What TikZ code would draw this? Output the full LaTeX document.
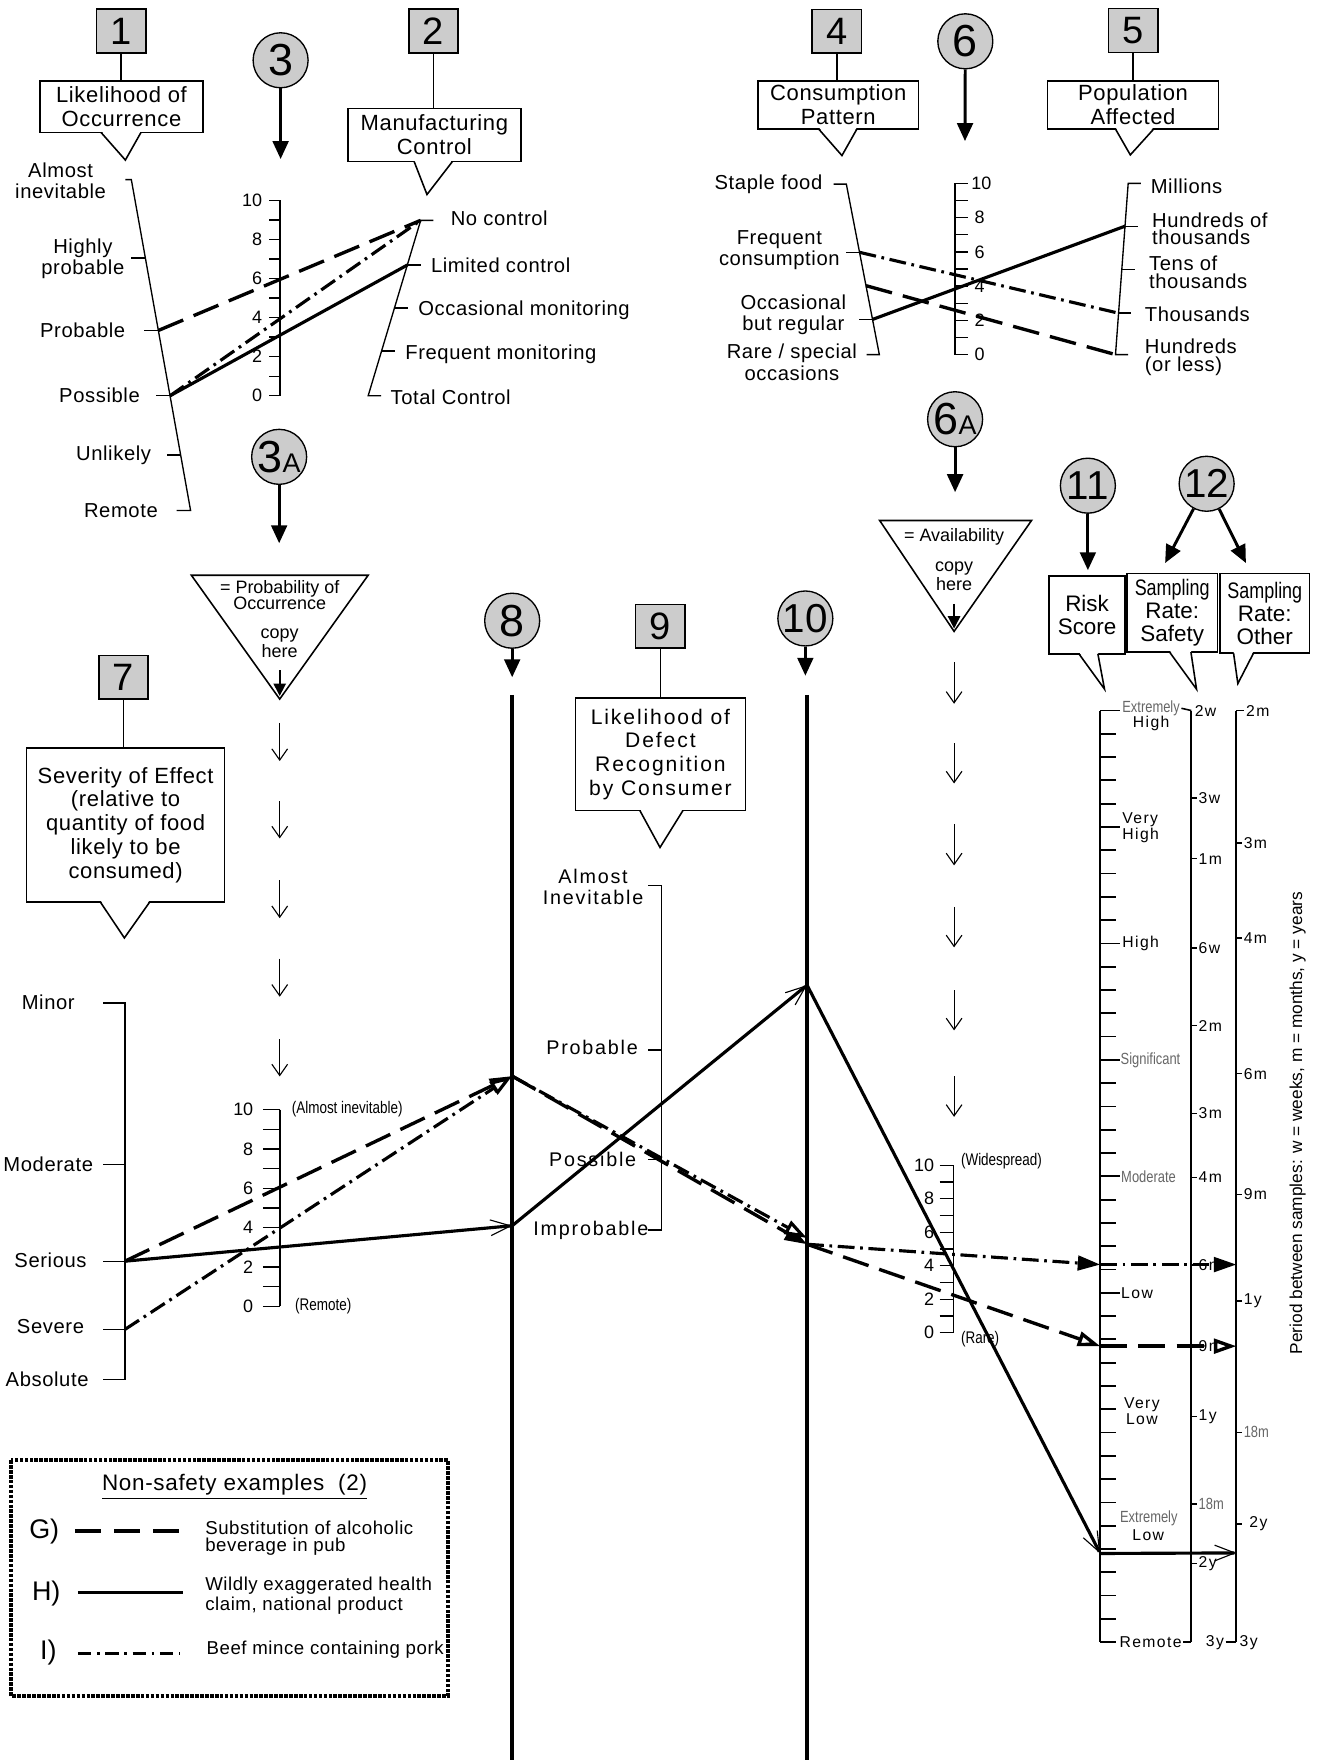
\documentclass[tikz,border=0pt]{standalone}
\usepackage{fontspec}
\setmainfont{Liberation Sans}
\newfontfamily\spacedfont[LetterSpace=3]{Liberation Sans}
\newfontfamily\widefont[LetterSpace=9]{Liberation Sans}
\newfontfamily\narrowfont[FakeStretch=0.8]{Liberation Sans}
\usetikzlibrary{arrows.meta,calc,positioning}
\definecolor{boxgray}{gray}{0.8}
\definecolor{labelgray}{gray}{0.4}
% pointer of a callout: base left x, base right x, base y, tip x, tip y
\newcommand{\pointer}[5]{%
  \fill[white] (#1,#3-1.8) -- (#4,#5) -- (#2,#3-1.8) -- cycle;
  \draw[line width=0.7pt] (#1,#3) -- (#4,#5) -- (#2,#3);}

\begin{document}
\begin{tikzpicture}[x=0.5pt,y=-0.5pt]
    \tikzstyle{numbox}=[draw, line width=0.7pt, fill=boxgray, minimum width=22pt, minimum height=19.5pt, inner sep=0pt, font=\fontsize{17}{17}\selectfont]
    \tikzstyle{numcirc}=[draw, circle, line width=0.6pt, fill=boxgray, minimum size=24.5pt, inner sep=0pt, font=\fontsize{20}{20}\selectfont]
    \tikzstyle{callout}=[draw, line width=0.7pt, fill=white, align=center, inner sep=0pt, font=\spacedfont\fontsize{9.8}{10.6}\selectfont]
    \tikzstyle{lbl}=[inner sep=1pt, align=center, font=\spacedfont\fontsize{9}{9.6}\selectfont]
    \tikzstyle{lblw}=[inner sep=1pt, align=center, font=\widefont\fontsize{8.8}{9.6}\selectfont]
    \tikzstyle{tnum}=[inner sep=1pt, font=\fontsize{8}{8}\selectfont]
    \tikzstyle{tiny}=[inner sep=0.5pt, font=\narrowfont\fontsize{7.5}{7.5}\selectfont]
    \tikzstyle{rs}=[inner sep=0.5pt, align=center, font=\widefont\fontsize{7}{7}\selectfont]
    \tikzstyle{rsg}=[inner sep=0.5pt, text=labelgray, font=\narrowfont\fontsize{7.2}{7.2}\selectfont]
    \tikzstyle{caseG}=[line width=1.5pt, dash pattern=on 12pt off 5pt]
    \tikzstyle{caseH}=[line width=1.4pt]
    \tikzstyle{caseI}=[line width=1.4pt, dash pattern=on 7.5pt off 2.5pt on 1.2pt off 2.5pt]
    \tikzstyle{headfill}=[-{Triangle[length=10pt,width=6.5pt]}]
    \tikzstyle{headopen}=[-{Triangle[length=10pt,width=6.5pt,fill=white]}]
    \tikzstyle{headbarb}=[-{Straight Barb[length=9pt,width=7pt,line width=0.5pt]}]
    \tikzstyle{flow}=[line width=0.5pt, -{Straight Barb[length=5pt,width=7pt]}]
    \tikzstyle{bigarrow}=[line width=1.3pt, -{Triangle[length=8pt,width=7pt]}]

    \useasboundingbox (0,0) rectangle (1180,1568);

    % Number boxes
    \node (b1)[numbox] at (108,27.6) {1};
    \node (b2)[numbox] at (386.2,27.6) {2};
    \node (b4)[numbox] at (745.6,27.9) {4};
    \node (b5)[numbox] at (1009.6,27.2) {5};
    \node (b7)[numbox] at (110,603.3) {7};
    \node (b9)[numbox] at (588.3,557.9) {9};

    % Number circles
    \node (k3)[numcirc] at (250,53.7) {3};
    \node (k3a)[numcirc] at (248.7,407) {3\fontsize{12}{12}\selectfont A};
    \node (k6)[numcirc] at (860,36.8) {6};
    \node (k6a)[numcirc] at (850.9,373.5) {6\fontsize{12}{12}\selectfont A};
    \node (k8)[numcirc] at (456.3,553) {8};
    \node (k10)[numcirc, font=\fontsize{18}{18}\selectfont] at (717.5,551) {10};
    \node (k11)[numcirc, font=\fontsize{18}{18}\selectfont] at (969.2,432.7) {11};
    \node (k12)[numcirc, font=\fontsize{18}{18}\selectfont] at (1075,431) {12};

    % Callouts
    \node (c1)[callout, minimum width=72.5pt, minimum height=23pt] at (108.2,95) {Likelihood of\\Occurrence};
    \node (c2)[callout, minimum width=77pt, minimum height=23.7pt] at (387,120.3) {Manufacturing\\Control};
    \node (c4)[callout, minimum width=71.4pt, minimum height=21.5pt] at (746.8,93.5) {Consumption\\Pattern};
    \node (c5)[callout, minimum width=76pt, minimum height=21.5pt] at (1009.4,93.5) {Population\\Affected};
    \node (c7)[callout, minimum width=88.2pt, minimum height=68.6pt] at (111.9,735) {Severity of Effect\\(relative to\\quantity of food\\likely to be\\consumed)};
    \node (c9)[callout, minimum width=75.7pt, minimum height=50pt, font=\widefont\fontsize{9.4}{10.6}\selectfont] at (588.4,672) {Likelihood of\\Defect\\Recognition\\by Consumer};
    \node (c11)[callout, minimum width=34pt, minimum height=34.75pt, font=\fontsize{10}{10.4}\selectfont] at (968.5,547.8) {Risk\\Score};
    \node (c12s)[callout, minimum width=40.25pt, minimum height=35pt, font=\fontsize{10}{10.3}\selectfont] at (1044.3,546) {{\narrowfont Sampling}\\Rate:\\Safety};
    \node (c12o)[callout, minimum width=39.8pt, minimum height=35.5pt, font=\fontsize{10}{10.3}\selectfont] at (1126.8,546.5) {{\narrowfont Sampling}\\Rate:\\Other};

    \pointer{90}{125.6}{118}{111.7}{142.6}
    \pointer{369}{403}{144}{380.4}{173.3}
    \pointer{729.4}{763.4}{115}{750.1}{138.6}
    \pointer{993.8}{1027.8}{115}{1007}{138}
    \pointer{89.4}{133.4}{803.6}{110.8}{835.6}
    \pointer{570}{608.5}{722}{588}{755}
    \pointer{961.2}{978.1}{582.5}{984}{613.9}
    \pointer{1042}{1061}{581}{1066}{614}
    \pointer{1099}{1116.7}{582}{1102.8}{609}

    % Boxes to callouts
    \draw[line width=0.7pt] (b1.south) -- (b1.south |- c1.north);
    \draw[line width=0.7pt] (b2.south) -- (b2.south |- c2.north);
    \draw[line width=0.7pt] (b4.south) -- (b4.south |- c4.north);
    \draw[line width=0.7pt] (b5.south) -- (b5.south |- c5.north);
    \draw[line width=0.7pt] (b7.south) -- (b7.south |- c7.north);
    \draw[line width=0.7pt] (b9.south) -- (b9.south |- c9.north);

    % Arrows out of the circles
    \coordinate (k3tip) at (250,141.7);
    \coordinate (k3atip) at (248.7,484);
    \coordinate (k6tip) at (859.7,125.7);
    \coordinate (k6atip) at (850.9,438.5);
    \coordinate (k8tip) at (456.3,603.4);
    \coordinate (k10tip) at (717.5,602);
    \coordinate (k11tip) at (969.2,508);
    \coordinate (k12stip) at (1038,501.6);
    \coordinate (k12otip) at (1110,501.6);
    \draw[bigarrow] (k3) -- (k3tip);
    \draw[bigarrow] (k3a) -- (k3atip);
    \draw[bigarrow] (k6) -- (k6tip);
    \draw[bigarrow] (k6a) -- (k6atip);
    \draw[bigarrow] (k8) -- (k8tip);
    \draw[bigarrow] (k10) -- (k10tip);
    \draw[bigarrow] (k11) -- (k11tip);
    \draw[bigarrow] (k12) -- (k12stip);
    \draw[bigarrow] (k12) -- (k12otip);

    % ---- Scale 1: likelihood of occurrence ----
    \coordinate (s1top) at (117,160);
    \coordinate (s1bot) at (169.8,454.8);
    \coordinate (s1-hp) at (129.5,230);
    \coordinate (s1-pr) at (141.1,294.4);
    \coordinate (s1-po) at (151.5,352.6);
    \coordinate (s1-un) at (161,405.4);
    \draw[line width=0.6pt] (111.7,160) -- (s1top) -- (s1bot) -- (157.4,454.8);
    \foreach \c in {s1-hp,s1-pr,s1-po,s1-un}
        \draw[line width=0.6pt] (\c) -- ++(-12.5,0);
    \node (l1-ai)[lbl] at (54,161) {Almost\\inevitable};
    \node (l1-hp)[lbl] at (73.8,230.5) {Highly\\probable};
    \node (l1-pr)[lbl, anchor=east] at (114,294) {Probable};
    \node (l1-po)[lbl, anchor=east] at (127,352) {Possible};
    \node (l1-un)[lbl, anchor=east] at (137,405.4) {Unlikely};
    \node (l1-re)[lbl, anchor=east] at (143,454.8) {Remote};

    % ---- Scale 2: manufacturing control ----
    \coordinate (s2top) at (374.8,196.3);
    \coordinate (s2bot) at (328,352.6);
    \coordinate (s2-lc) at (362.9,236.1);
    \coordinate (s2-om) at (351.4,274.5);
    \coordinate (s2-fm) at (339.9,312.8);
    \draw[line width=0.6pt] (386,196.3) -- (s2top) -- (s2bot) -- (339.5,352.6);
    \foreach \c in {s2-lc,s2-om,s2-fm}
        \draw[line width=0.6pt] (\c) -- ++(12,0);
    \node (l2-nc)[lbl, anchor=west] at (399.2,194.7) {No control};
    \node (l2-lc)[lbl, anchor=west] at (381.6,236.7) {Limited control};
    \node (l2-om)[lbl, anchor=west] at (370.3,276) {Occasional monitoring};
    \node (l2-fm)[lbl, anchor=west] at (358.7,315.8) {Frequent monitoring};
    \node (l2-tc)[lbl, anchor=west] at (345.6,354.2) {Total Control};

    % ---- Scale 3: probability 0-10 ----
    \draw[line width=0.7pt] (249.2,178.5) -- (249.2,352.6);
    \foreach \v in {0,...,10}
        \draw[line width=0.6pt] (239.9,{352.6-\v*17.41}) -- (249.2,{352.6-\v*17.41});
    \foreach \v in {0,2,...,10}
        \node (n3-\v)[tnum, anchor=east] at (236,{352.6-\v*17.41}) {\v};

    % Example lines through scales 1-3
    \draw[caseG] (s1-pr) -- (s2top);
    \draw[caseI] (s1-po) -- (s2top);
    \draw[caseH] (s1-po) -- (s2-lc);

    % ---- Scale 4: consumption pattern ----
    \coordinate (s4top) at (754,164);
    \coordinate (s4bot) at (783.4,315.9);
    \coordinate (s4-fc) at (765.8,224.8);
    \coordinate (s4-g) at (771.5,254.5);
    \coordinate (s4-ob) at (777.3,284.6);
    \draw[line width=0.6pt] (742.6,164) -- (s4top) -- (s4bot) -- (772,315.9);
    \foreach \c in {s4-fc,s4-ob}
        \draw[line width=0.6pt] (\c) -- ++(-12,0);
    \node (l4-sf)[lbl, anchor=east] at (735,164) {Staple food};
    \node (l4-fc)[lbl] at (694.3,223) {Frequent\\consumption};
    \node (l4-ob)[lbl] at (706.8,280.6) {Occasional\\but regular};
    \node (l4-rs)[lbl] at (705.5,322.6) {Rare / special\\occasions};

    % ---- Scale 6: availability 0-10 ----
    \draw[line width=0.7pt] (851,163.4) -- (851,315.9);
    \foreach \v in {0,...,10}
        \draw[line width=0.6pt] (851,{315.9-\v*15.25}) -- (862.6,{315.9-\v*15.25});
    \foreach \v in {0,2,...,8}
        \node (n6-\v)[tnum, anchor=west] at (866,{315.9-\v*15.25}) {\v};
    \node (n6-10)[tnum, anchor=west] at (863,163.4) {10};

    % ---- Scale 5: population affected ----
    \coordinate (s5top) at (1005.1,163.4);
    \coordinate (s5bot) at (993.8,315.9);
    \coordinate (s5-ht) at (1002.3,201.5);
    \coordinate (s5-tt) at (999.4,240.1);
    \coordinate (s5-th) at (996.5,279);
    \draw[line width=0.6pt] (1016.4,163.4) -- (s5top) -- (s5bot) -- (1005.1,315.9);
    \foreach \c in {s5-ht,s5-tt,s5-th}
        \draw[line width=0.6pt] (\c) -- ++(11.5,0);
    \node (l5-mi)[lbl, anchor=west] at (1022.8,165.6) {Millions};
    \node (l5-ht)[lbl, anchor=west, align=left, font=\spacedfont\fontsize{9}{7.8}\selectfont] at (1024,204) {Hundreds of\\thousands};
    \node (l5-tt)[lbl, anchor=west, align=left, font=\spacedfont\fontsize{9}{8}\selectfont] at (1021.4,242.5) {Tens of\\thousands};
    \node (l5-th)[lbl, anchor=west] at (1017.6,279.7) {Thousands};
    \node (l5-hu)[lbl, anchor=west, align=left, font=\spacedfont\fontsize{9}{8}\selectfont] at (1017.6,318.6) {Hundreds\\(or less)};

    % Example lines through scales 4-6
    \draw[caseI] (s4-fc) -- (s5-th);
    \draw[caseG] (s4-g) -- (s5bot);
    \draw[caseH] (s4-ob) -- (s5-ht);

    % ---- "copy here" triangles and the arrows below them ----
    \draw[line width=0.7pt, fill=white] (170.5,512.5) -- (328,512.5) -- (249.2,622.8) -- cycle;
    \node (t1txt)[inner sep=0pt, align=center, font=\fontsize{8}{7.3}\selectfont] at (249.2,530) {= Probability of\\Occurrence};
    \node (t1copy)[inner sep=0pt, align=center, font=\fontsize{8}{7.3}\selectfont] at (249.2,573) {copy\\here};
    \draw[line width=0.7pt, -{Triangle[length=5.5pt,width=5.5pt]}] (249.2,597) -- (249.2,620);
    \foreach \a/\b in {644/678,714/747,784/818,854/888,926/959}
        \draw[flow] (249.2,\a) -- (249.2,\b);

    \draw[line width=0.7pt, fill=white] (783.7,463.7) -- (919,463.7) -- (850,562.5) -- cycle;
    \node (t2txt)[inner sep=0pt, font=\fontsize{8}{7.3}\selectfont] at (850,478) {= Availability};
    \node (t2copy)[inner sep=0pt, align=center, font=\fontsize{8}{7.3}\selectfont] at (850,513) {copy\\here};
    \draw[line width=0.7pt, -{Triangle[length=5.5pt,width=5.5pt]}] (850,538) -- (850,560);
    \foreach \a/\b in {590/627,662/698,734/771,808/844,882/918,959/995}
        \draw[flow] (850,\a) -- (850,\b);

    % ---- Scale 7: severity of effect ----
    \draw[line width=0.6pt] (91.8,893.5) -- (111.3,893.5) -- (111.3,1229) -- (91.8,1229);
    \foreach \y in {1037.5,1123.6,1184.4}
        \draw[line width=0.6pt] (91.8,\y) -- (111.3,\y);
    \node (l7-mi)[lbl] at (43,892.5) {Minor};
    \node (l7-mo)[lbl] at (43,1037) {Moderate};
    \node (l7-se)[lbl] at (45,1123) {Serious};
    \node (l7-sv)[lbl] at (45,1181.5) {Severe};
    \node (l7-ab)[lbl] at (42,1228.5) {Absolute};

    % ---- Scale 3A: probability copied ----
    \draw[line width=0.7pt] (249.2,988.5) -- (249.2,1163.7);
    \foreach \v in {0,...,10}
        \draw[line width=0.6pt] (234.2,{1163.7-\v*17.52}) -- (249.2,{1163.7-\v*17.52});
    \foreach \v in {0,2,...,10}
        \node (n3a-\v)[tnum, anchor=east] at (228,{1163.7-\v*17.52}) {\v};
    \node (l3a-top)[tiny, anchor=west] at (258.6,988.5) {(Almost inevitable)};
    \node (l3a-bot)[tiny, anchor=west] at (261.6,1164) {(Remote)};

    % ---- Lines 8 and 10 ----
    \draw[line width=1.6pt] (456.3,619) -- (456.3,1568);
    \draw[line width=1.6pt] (719,619) -- (719,1568);

    % ---- Scale 9: defect recognition ----
    \draw[line width=0.6pt] (577.4,788.8) -- (589.3,788.8) -- (589.3,1095.8) -- (577.4,1095.8);
    \foreach \y in {935.5,1033.2}
        \draw[line width=0.6pt] (577.4,\y) -- (589.3,\y);
    \node (l9-ai)[lblw, font=\widefont\fontsize{8.8}{9.3}\selectfont] at (528.4,790.3) {Almost\\Inevitable};
    \node (l9-pr)[lblw] at (527.5,933) {Probable};
    \node (l9-po)[lblw] at (528,1032.5) {Possible};
    \node (l9-im)[lblw] at (526.4,1096) {Improbable};

    % ---- Scale 6A: availability copied ----
    \draw[line width=0.7pt] (849.5,1038.1) -- (849.5,1187.4);
    \foreach \v in {0,...,10}
        \draw[line width=0.6pt] (837,{1187.4-\v*14.93}) -- (849.5,{1187.4-\v*14.93});
    \foreach \v in {0,2,...,10}
        \node (n6a-\v)[tnum, anchor=east] at (834.5,{1187.4-\v*14.93}) {\v};
    \node (l6a-top)[tiny, anchor=west] at (854.8,1034.4) {(Widespread)};
    \node (l6a-bot)[tiny, anchor=west] at (854.8,1193.3) {(Rare)};

    % ---- Scale 11: risk score ----
    \draw[line width=0.9pt] (980.2,633) -- (980.2,1463);
    \foreach \i in {0,...,40}
        \draw[line width=0.8pt] (980.2,{633+\i*20.75}) -- ++(14.3,0);
    \foreach \i in {0,5,10,15,20,25}
        \draw[line width=0.8pt] (980.2,{633+\i*20.75}) -- ++(18,0);
    \node (r-eh1)[rsg] at (1025.5,631) {Extremely};
    \node (r-eh2)[rs] at (1025.6,644.8) {High};
    \node (r-vh)[rs, anchor=west, align=left] at (998.5,737.5) {Very\\High};
    \node (r-hi)[rs, anchor=west] at (998.5,840.5) {High};
    \node (r-si)[rsg, anchor=west] at (997,944.2) {Significant};
    \node (r-mo)[rsg, anchor=west] at (997.5,1048) {Moderate};
    \node (r-lo)[rs, anchor=west] at (997.5,1151.7) {Low};
    \node (r-vl)[rs] at (1017.3,1257) {Very\\Low};
    \node (r-el1)[rsg] at (1023.5,1352.5) {Extremely};
    \node (r-el2)[rs] at (1023,1368) {Low};
    \node (r-re)[rs, anchor=west] at (996,1463) {Remote};

    % ---- Scales 12: sampling rates ----
    \draw[line width=0.8pt] (1061.3,633) -- (1061.3,1463);
    \draw[line width=0.8pt] (1101.5,633) -- (1101.5,1463);
    \draw[line width=0.7pt] (r-eh1.east) -- (1061.3,633);
    \draw[line width=0.7pt] (r-re.east) -- (1061.3,1463);
    \node (sa-2w)[rs, anchor=west] at (1063,633) {2w};
    \foreach \y/\t in {711/3w,765/1m,844.5/6w,913.8/2m,991.8/3m,1048.8/4m,1127/6m,1199/9m,1262/1y,1393/2y}
        \draw[line width=0.6pt] (1061.3,\y) -- ++(5,0) node[rs, anchor=west] {\t};
    \draw[line width=0.6pt] (1061.3,1340) -- ++(5,0) node[rsg, anchor=west] {18m};
    \node (sa-3y)[rs, anchor=west] at (1073,1463) {3y};
    \draw[line width=0.7pt] (sa-3y.east) -- (1101.5,1463);
    \draw[line width=0.7pt] (1101.5,633) -- ++(7,0) node[rs, anchor=west] (ot-2m) {2m};
    \foreach \y/\t in {751/3m,835.6/4m,956.5/6m,1064/9m,1159/1y}
        \draw[line width=0.6pt] (1101.5,\y) -- ++(5,0) node[rs, anchor=west] {\t};
    \draw[line width=0.6pt] (1101.5,1276) -- ++(5,0) node[rsg, anchor=west] {18m};
    \draw[line width=0.6pt] (1101.5,1357.6) -- ++(5,0) node[rs, anchor=west, xshift=2.5pt] {2y};
    \node (ot-3y)[rs, anchor=west] at (1103,1463) {3y};
    \node (period)[rotate=90, inner sep=0pt, font=\fontsize{7.7}{7.7}\selectfont] at (1156,1000.5) {Period between samples:  w = weeks, m = months, y = years};

    % ---- Example lines through scales 7-12 ----
    \coordinate (s7-se) at (111.3,1123.6);
    \coordinate (s7-sv) at (111.3,1184.4);
    \coordinate (p8hi) at (456.3,958.7);
    \coordinate (p8lo) at (456.3,1092);
    \coordinate (p10hi) at (719,877.6);
    \coordinate (p10i) at (719,1103);
    \coordinate (p10g) at (719,1108.5);
    \coordinate (r-i) at (980.2,1126.6);
    \coordinate (r-g) at (980.2,1199.3);
    \coordinate (r-h) at (980.2,1384);
    \coordinate (o-i) at (1101.5,1126.6);
    \coordinate (o-g) at (1101.5,1199.3);
    \coordinate (o-h) at (1101.5,1383.5);
    \draw[caseG, headfill] (s7-se) -- (p8hi);
    \draw[caseI, headopen] (s7-sv) -- (p8hi);
    \draw[caseH, headbarb] (s7-se) -- (p8lo);
    \draw[caseG, headfill] (p8hi) -- (p10g);
    \draw[caseI, headopen] (p8hi) -- (p10i);
    \draw[caseH, headbarb] (p8lo) -- (p10hi);
    \draw[caseI, headfill] (p10g) -- (r-i);
    \draw[caseG, headopen] (p10g) -- (r-g);
    \draw[caseH, headbarb] (p10hi) -- (r-h);
    \draw[caseI, headfill] (r-i) -- (o-i);
    \draw[caseG, headopen] (r-g) -- (o-g);
    \draw[caseH, headbarb] (r-h) -- (o-h);

    % ---- Legend ----
    \draw[line width=1.7pt, dash pattern=on 1.6pt off 0.6pt] (10.1,1300.8) rectangle (399.2,1511);
    \node (legtitle)[inner sep=0pt, font=\spacedfont\fontsize{10}{10}\selectfont] at (209,1324.5) {\underline{Non-safety examples\ \ (2)}};
    \node (keyG)[inner sep=0pt, font=\fontsize{12}{12}\selectfont] at (39.4,1364.5) {G)};
    \node (keyH)[inner sep=0pt, font=\fontsize{12}{12}\selectfont] at (41.2,1420) {H)};
    \node (keyI)[inner sep=0pt, font=\fontsize{12}{12}\selectfont] at (43.1,1472.4) {I)};
    \draw[line width=1.4pt, dash pattern=on 11.5pt off 6pt] (66.7,1364) -- (165,1364);
    \draw[line width=1.3pt] (69.3,1419) -- (163,1419);
    \draw[line width=1pt, dash pattern=on 6pt off 2.5pt on 1.2pt off 2.5pt] (69.3,1473) -- (160.4,1473);
    \node (txtG)[anchor=west, align=left, inner sep=0pt, font=\spacedfont\fontsize{8.3}{7.6}\selectfont] at (182.5,1370) {Substitution of alcoholic\\beverage in pub};
    \node (txtH)[anchor=west, align=left, inner sep=0pt, font=\spacedfont\fontsize{8.3}{7.6}\selectfont] at (182.5,1421.7) {Wildly exaggerated health\\claim, national product};
    \node (txtI)[anchor=west, align=left, inner sep=0pt, font=\spacedfont\fontsize{8.3}{7.6}\selectfont] at (183.7,1469.4) {Beef mince containing pork};
\end{tikzpicture}
\end{document}
